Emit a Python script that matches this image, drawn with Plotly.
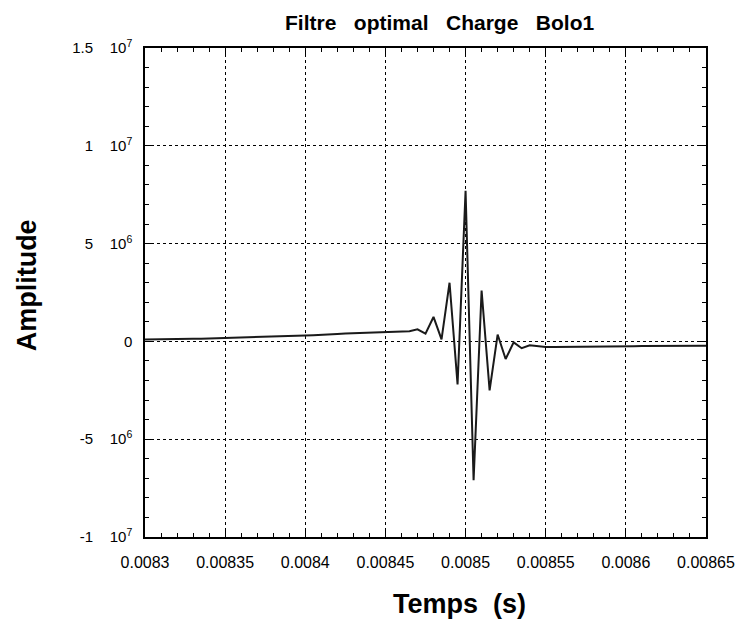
import numpy as np
import plotly.graph_objects as go

# sampling of the filtered signal
t_start = 0.0083
dt = 5e-6

amplitude = [
    0.10e6, 0.10e6, 0.11e6, 0.11e6, 0.12e6, 0.12e6, 0.13e6, 0.14e6, 0.15e6, 0.17e6,
    0.19e6, 0.20e6, 0.21e6, 0.22e6, 0.24e6, 0.25e6, 0.26e6, 0.27e6, 0.28e6, 0.28e6,
    0.30e6, 0.32e6, 0.35e6, 0.36e6, 0.38e6, 0.40e6, 0.41e6, 0.43e6, 0.44e6, 0.45e6,
    0.46e6, 0.48e6, 0.50e6, 0.52e6, 0.62e6, 0.40e6, 1.25e6, 0.10e6, 3.0e6, -2.2e6,
    7.7e6, -7.1e6, 2.6e6, -2.5e6, 0.35e6, -0.9e6, -0.05e6, -0.35e6, -0.20e6, -0.25e6,
    -0.28e6, -0.28e6, -0.28e6, -0.27e6, -0.27e6, -0.27e6, -0.26e6, -0.26e6, -0.26e6, -0.25e6,
    -0.25e6, -0.25e6, -0.24e6, -0.24e6, -0.24e6, -0.23e6, -0.23e6, -0.23e6, -0.22e6, -0.22e6,
    -0.22e6,
]
time = t_start + dt * np.arange(len(amplitude))

NB = "\u00a0"
x_tickvals = [0.0083, 0.00835, 0.0084, 0.00845, 0.0085, 0.00855, 0.0086, 0.00865]
x_ticktext = ["0.0083", "0.00835", "0.0084", "0.00845", "0.0085", "0.00855", "0.0086", "0.00865"]
y_tickvals = [-1e7, -5e6, 0, 5e6, 1e7, 1.5e7]
y_ticktext = ["-1" + NB * 4 + "10<sup>7</sup>", "-5" + NB * 4 + "10<sup>6</sup>", "0",
              "5" + NB * 4 + "10<sup>6</sup>", "1" + NB * 4 + "10<sup>7</sup>",
              "1.5" + NB * 4 + "10<sup>7</sup>"]

title_text = "Filtre" + NB * 3 + "optimal" + NB * 3 + "Charge" + NB * 3 + "Bolo1"
x_title = "Temps" + NB * 2 + "(s)"
y_title = "Amplitude"

FONT = "Liberation Sans, Arial, Helvetica, sans-serif"

fig = go.Figure()
fig.add_trace(go.Scatter(x=time, y=amplitude, mode="lines",
                         line=dict(color="#1a1a1a", width=2), showlegend=False))

axis_common = dict(
    showline=True, linecolor="black", linewidth=1.5, mirror="allticks",
    ticks="inside", ticklen=6, tickcolor="black", tickwidth=1,
    showgrid=True, gridcolor="black", gridwidth=1, griddash="dot",
    zeroline=False,
)

fig.update_xaxes(
    range=[0.0083, 0.00865], tickmode="array", tickvals=x_tickvals, ticktext=x_ticktext,
    ticklabelstandoff=10, tickfont=dict(family=FONT, size=16, color="black"),
    minor=dict(dtick=1e-5, tick0=0.0083, ticks="inside", ticklen=4, tickcolor="black", showgrid=False),
    **axis_common,
)
fig.update_yaxes(
    range=[-1e7, 1.5e7], tickmode="array", tickvals=y_tickvals, ticktext=y_ticktext,
    ticklabelstandoff=8, tickfont=dict(family=FONT, size=15, color="black"),
    minor=dict(dtick=1e6, tick0=0, ticks="inside", ticklen=4, tickcolor="black", showgrid=False),
    **axis_common,
)

# the page body has an 8px margin, so the figure is sized/margined to compensate
fig.update_layout(
    width=740, height=614,
    margin=dict(l=137, r=42, t=40, b=85, autoexpand=False),
    paper_bgcolor="white", plot_bgcolor="white",
    font=dict(family=FONT, color="black"),
    annotations=[
        dict(text="<b>" + title_text + "</b>", xref="paper", yref="paper", x=0.526, y=1.052,
             showarrow=False, font=dict(size=21, family=FONT), xanchor="center", yanchor="middle"),
        dict(text="<b>" + x_title + "</b>", xref="paper", yref="paper", x=0.561, y=-0.137,
             showarrow=False, font=dict(size=27, family=FONT), xanchor="center", yanchor="middle"),
        dict(text="<b>" + y_title + "</b>", xref="paper", yref="paper", x=-0.210, y=0.515,
             showarrow=False, font=dict(size=27, family=FONT), textangle=-90,
             xanchor="center", yanchor="middle"),
    ],
)

fig.write_html("out.html")
